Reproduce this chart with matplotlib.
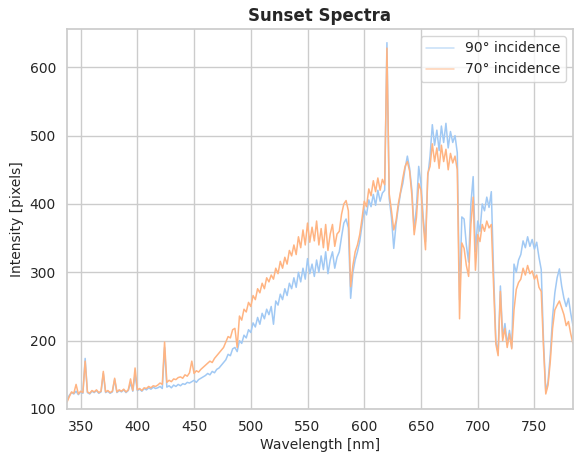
import numpy as np
import matplotlib
matplotlib.use("Agg")
import matplotlib.pyplot as plt
import seaborn as sns

# Sampling grid of wavelengths [nm]
wavelength = np.arange(338, 786, 2)

# 90 degree incidence intensities [pixels]
intensity_90 = [
    112, 120, 124, 122, 126, 121, 125, 123, 174, 124,
    122, 126, 124, 127, 123, 125, 152, 124, 126, 123,
    125, 143, 124, 127, 125, 128, 124, 127, 138, 126,
    150, 127, 129, 126, 130, 128, 131, 129, 132, 130,
    131, 133, 130, 190, 132, 134, 131, 135, 133, 136,
    134, 137, 136, 139, 138, 140, 142, 139, 143, 145,
    147, 149, 152, 150, 155, 153, 158, 160, 164, 168,
    172, 180, 178, 188, 190, 184, 200, 196, 208, 204,
    216, 212, 226, 220, 234, 224, 240, 232, 246, 238,
    250, 224, 258, 252, 268, 260, 276, 266, 284, 276,
    292, 278, 300, 286, 306, 290, 320, 298, 312, 294,
    318, 300, 324, 304, 330, 298, 318, 330, 306, 322,
    330, 352, 372, 378, 365, 262, 300, 318, 330, 345,
    368, 392, 384, 406, 396, 414, 398, 420, 404, 416,
    420, 636, 408, 380, 335, 370, 395, 416, 430, 452,
    470, 452, 420, 362, 395, 455, 430, 380, 345, 440,
    470, 516, 486, 508, 478, 514, 490, 518, 482, 506,
    490, 500, 475, 260, 381, 378, 340, 315, 400, 440,
    330, 375, 360, 400, 390, 410, 395, 418, 300, 200,
    182, 280, 205, 225, 195, 215, 190, 312, 300, 318,
    326, 346, 336, 352, 338, 348, 334, 344, 322, 304,
    200, 125, 140, 180, 235, 270, 292, 305, 280, 262,
    250, 262, 240, 222,
]

# 70 degree incidence intensities [pixels]
intensity_70 = [
    110, 118, 125, 123, 136, 122, 126, 124, 170, 125,
    123, 127, 125, 128, 124, 126, 155, 125, 127, 124,
    126, 145, 125, 128, 126, 129, 125, 128, 144, 127,
    160, 128, 130, 127, 131, 130, 133, 131, 134, 133,
    135, 138, 136, 198, 139, 142, 140, 144, 143, 146,
    147, 145, 150, 148, 153, 170, 152, 156, 154, 158,
    161, 164, 167, 170, 168, 174, 178, 182, 186, 190,
    198, 206, 204, 216, 218, 190, 236, 230, 246, 242,
    256, 250, 266, 260, 276, 270, 284, 276, 292, 286,
    296, 290, 306, 298, 316, 306, 322, 312, 332, 324,
    340, 326, 352, 336, 362, 340, 372, 344, 366, 346,
    375, 340, 364, 336, 370, 332, 356, 370, 338, 356,
    360, 385, 400, 405, 390, 279, 310, 330, 340, 355,
    378, 404, 396, 422, 412, 434, 418, 438, 420, 436,
    428, 628, 415, 390, 362, 375, 400, 418, 438, 455,
    462, 448, 412, 355, 380, 430, 420, 372, 333, 445,
    455, 488, 462, 482, 452, 486, 462, 480, 450, 474,
    460, 470, 450, 232, 343, 335, 310, 294, 370, 410,
    303, 355, 345, 370, 360, 375, 365, 370, 280, 195,
    178, 272, 200, 218, 190, 210, 188, 245, 275, 285,
    290, 306, 296, 310, 298, 302, 290, 296, 278, 272,
    190, 122, 135, 170, 218, 245, 252, 258, 248, 238,
    222, 228, 210, 196,
]

series_labels = ["90° incidence", "70° incidence"]

sns.set_theme(style="whitegrid", palette="pastel")
pal = sns.color_palette("pastel")

fig = plt.figure(figsize=(5.74, 4.57), dpi=100)
ax = fig.add_axes([67 / 574, 1 - 409 / 457, (573 - 67) / 574, (409 - 29) / 457])

ax.plot(wavelength, intensity_90, color=pal[0], lw=1.1, label=series_labels[0])
ax.plot(wavelength, intensity_70, color=pal[1], lw=1.1, label=series_labels[1])

ax.set_xlim(338, 784)
ax.set_ylim(100, 656)
ax.set_xticks([350, 400, 450, 500, 550, 600, 650, 700, 750])
ax.set_yticks([100, 200, 300, 400, 500, 600])
ax.set_xlabel("Wavelength [nm]", fontsize=10)
ax.set_ylabel("Intensity [pixels]", fontsize=10)
ax.set_title("Sunset Spectra", fontsize=12, fontweight="bold")
ax.tick_params(labelsize=10, pad=2)
ax.xaxis.labelpad = 3
ax.yaxis.labelpad = 4

leg = ax.legend(loc="upper right", fontsize=10)
for ln in leg.get_lines():
    ln.set_alpha(0.6)

fig.savefig("out.png", dpi=100)
